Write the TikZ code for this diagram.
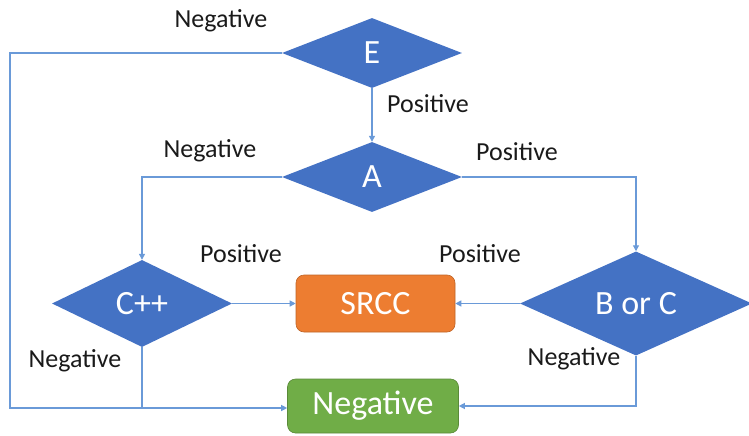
\documentclass[tikz,border=0pt]{standalone}
\usepackage{fontspec}
\setmainfont{Carlito}
\usetikzlibrary{shapes.geometric,arrows.meta}
\definecolor{dblue}{HTML}{4472C4}
\definecolor{lblue}{HTML}{6A9AD8}
\definecolor{dorange}{HTML}{ED7D31}
\definecolor{dgreen}{HTML}{70AD47}
\definecolor{ltext}{HTML}{1A1A1A}
\begin{document}
\begin{tikzpicture}[x=1pt,y=-1pt,
  dec/.style={diamond,fill=dblue,draw=none,inner sep=0pt,text=white,
    font=\fontsize{34}{34}\selectfont},
  boxnode/.style={rectangle,rounded corners=8pt,inner sep=0pt,text=white,
    font=\fontsize{34}{34}\selectfont},
  lbl/.style={anchor=base,text=ltext,font=\fontsize{26}{26}\selectfont},
  conn/.style={draw=lblue,line width=1.2pt},
  arr/.style={conn,-{Triangle[length=6pt,width=6pt]}}]
\useasboundingbox (0,0) rectangle (749,436);
\node[dec,minimum width=180pt,minimum height=70pt] (E) at (372,53) {E};
\node[dec,minimum width=180pt,minimum height=70pt] (A) at (372,177) {A};
\node[dec,minimum width=180pt,minimum height=87pt] (C) at (142,303.5) {C++};
\node[dec,minimum width=232pt,minimum height=87pt] (B) at (636,303.5) {B or C};
\node[boxnode,fill=dorange,draw=dorange!80!black,line width=0.6pt,minimum width=159pt,minimum height=57pt] (S) at (375.5,303.5) {SRCC};
\node[boxnode,fill=dgreen,draw=dgreen!80!black,line width=0.6pt,minimum width=171pt,minimum height=54pt] (N) at (373,406) {Negative};
\coordinate (eL) at (10,53);
\coordinate (eB) at (10,408);
\coordinate (aL) at (142,177);
\coordinate (aR) at (636,177);
\coordinate (cB) at (142,408);
\coordinate (bB) at (636,406);
\draw[arr] (E.south) -- (A.north);
\draw[arr] (E.west) -- (eL) -- (eB) -- (N.west |- eB);
\draw[arr] (A.west) -- (aL) -- (C.north);
\draw[arr] (A.east) -- (aR) -- (B.north);
\draw[arr] (C.east) -- (S.west);
\draw[arr] (B.west) -- (S.east);
\draw[conn] (C.south) -- (cB);
\draw[arr] (B.south) -- (bB) -- (N.east);
\node[lbl] (l1) at (221,28) {Negative};
\node[lbl] (l2) at (428,112) {Positive};
\node[lbl] (l3) at (210,157) {Negative};
\node[lbl] (l4) at (517,160) {Positive};
\node[lbl] (l5) at (241,262) {Positive};
\node[lbl] (l6) at (480,262) {Positive};
\node[lbl] (l7) at (75,367) {Negative};
\node[lbl] (l8) at (574,365) {Negative};
\end{tikzpicture}
\end{document}
